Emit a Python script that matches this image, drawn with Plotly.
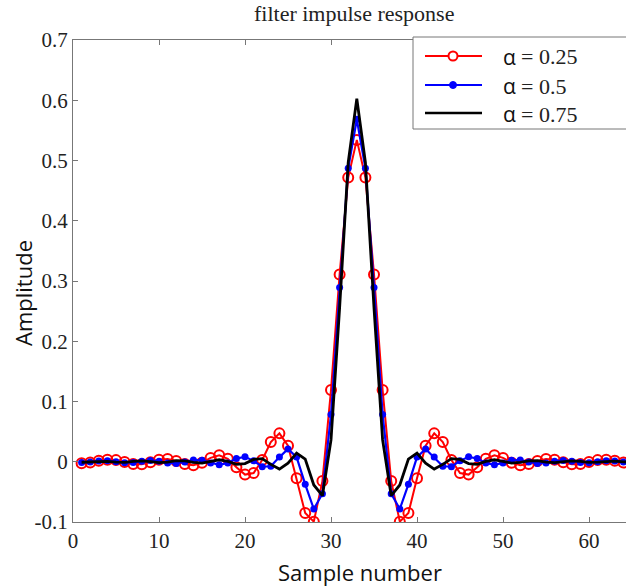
import plotly.graph_objects as go

samples = list(range(1, 66))

h_025 = [-0.0025, -0.0013, 0.0015, 0.0034, 0.0027, -0.0006, -0.0038, -0.0040, -0.0008, 0.0034,
         0.0046, 0.0014, -0.0038, -0.0057, -0.0015, 0.0064, 0.0106, 0.0050, -0.0091, -0.0213,
         -0.0188, 0.0030, 0.0326, 0.0471, 0.0265, -0.0275, -0.0851, -0.0994, -0.0321, 0.1190,
         0.3109, 0.4716, 0.5342, 0.4716, 0.3109, 0.1190, -0.0321, -0.0994, -0.0851, -0.0275,
         0.0265, 0.0471, 0.0326, 0.0030, -0.0188, -0.0213, -0.0091, 0.0050, 0.0106, 0.0064,
         -0.0015, -0.0057, -0.0038, 0.0014, 0.0046, 0.0034, -0.0008, -0.0040, -0.0038, -0.0006,
         0.0027, 0.0034, 0.0015, -0.0013, -0.0025]

h_050 = [-0.0012, -0.0005, 0.0011, 0.0015, 0.0001, -0.0015, -0.0012, 0.0008, 0.0022, 0.0008,
         -0.0020, -0.0029, -0.0003, 0.0029, 0.0025, -0.0019, -0.0051, -0.0019, 0.0054, 0.0082,
         0.0015, -0.0082, -0.0075, 0.0077, 0.0212, 0.0077, -0.0375, -0.0784, -0.0531, 0.0784,
         0.2893, 0.4872, 0.5683, 0.4872, 0.2893, 0.0784, -0.0531, -0.0784, -0.0375, 0.0077,
         0.0212, 0.0077, -0.0075, -0.0082, 0.0015, 0.0082, 0.0054, -0.0019, -0.0051, -0.0019,
         0.0025, 0.0029, -0.0003, -0.0029, -0.0020, 0.0008, 0.0022, 0.0008, -0.0012, -0.0015,
         0.0001, 0.0015, 0.0011, -0.0005, -0.0012]

h_075 = [-0.0008, -0.0002, 0.0009, 0.0006, -0.0007, -0.0009, 0.0005, 0.0014, 0.0001, -0.0015,
         -0.0006, 0.0017, 0.0016, -0.0012, -0.0024, 0.0006, 0.0033, 0.0007, -0.0042, -0.0031,
         0.0038, 0.0052, -0.0044, -0.0121, -0.0023, 0.0143, 0.0044, -0.0385, -0.0563, 0.0363,
         0.2554, 0.4968, 0.6025, 0.4968, 0.2554, 0.0363, -0.0563, -0.0385, 0.0044, 0.0143,
         -0.0023, -0.0121, -0.0044, 0.0052, 0.0038, -0.0031, -0.0042, 0.0007, 0.0033, 0.0006,
         -0.0024, -0.0012, 0.0016, 0.0017, -0.0006, -0.0015, 0.0001, 0.0014, 0.0005, -0.0009,
         -0.0007, 0.0006, 0.0009, -0.0002, -0.0008]

legend_values = ["= 0.25", "= 0.5", "= 0.75"]
series_colors = ["#ff0000", "#0000ff", "#000000"]
x_ticks = [0, 10, 20, 30, 40, 50, 60]
y_ticks = [-0.1, 0, 0.1, 0.2, 0.3, 0.4, 0.5, 0.6, 0.7]
y_ticktext = ["-0.1", "0", "0.1", "0.2", "0.3", "0.4", "0.5", "0.6", "0.7"]

serif = "Liberation Serif, Times New Roman, serif"
sans = "Open Sans, sans-serif"

# plot area in pixels (used only to place the hand-made legend box)
L, R, T, B = 73, 626, 40, 522
W, H = R - L, B - T
def px(x):
    return (x - L) / W
def py(y):
    return (B - y) / H

fig = go.Figure()
fig.add_trace(go.Scatter(x=samples, y=h_025, mode="lines+markers", showlegend=False,
                         line=dict(color=series_colors[0], width=2),
                         marker=dict(symbol="circle-open", size=10, color=series_colors[0],
                                     line=dict(width=2, color=series_colors[0]))))
fig.add_trace(go.Scatter(x=samples, y=h_050, mode="lines+markers", showlegend=False,
                         line=dict(color=series_colors[1], width=2.2),
                         marker=dict(symbol="circle", size=7, color=series_colors[1])))
fig.add_trace(go.Scatter(x=samples, y=h_075, mode="lines", showlegend=False,
                         line=dict(color=series_colors[2], width=2.8)))

shapes = []
annotations = []
# legend box
shapes.append(dict(type="rect", xref="paper", yref="paper",
                   x0=px(413), x1=px(660), y0=py(129), y1=py(37),
                   fillcolor="white", line=dict(color="#777", width=1), layer="above"))
rows = [56, 85, 113]
for i, yy in enumerate(rows):
    shapes.append(dict(type="line", xref="paper", yref="paper",
                       x0=px(425), x1=px(482), y0=py(yy), y1=py(yy),
                       line=dict(color=series_colors[i], width=2.5 if i == 2 else 2), layer="above"))
    annotations.append(dict(xref="paper", yref="paper", x=px(501), y=py(yy + 1),
                            xanchor="left", yanchor="middle", showarrow=False, text="α",
                            font=dict(family=sans, size=21, color="#111")))
    annotations.append(dict(xref="paper", yref="paper", x=px(519), y=py(yy + 1),
                            xanchor="left", yanchor="middle", showarrow=False,
                            text=legend_values[i],
                            font=dict(family=serif, size=22, color="#222")))
# legend markers
r = 4.5
shapes.append(dict(type="circle", xref="paper", yref="paper",
                   x0=px(453 - r), x1=px(453 + r), y0=py(rows[0] + r), y1=py(rows[0] - r),
                   fillcolor="white", line=dict(color=series_colors[0], width=2), layer="above"))
r2 = 3.5
shapes.append(dict(type="circle", xref="paper", yref="paper",
                   x0=px(453 - r2), x1=px(453 + r2), y0=py(rows[1] + r2), y1=py(rows[1] - r2),
                   fillcolor=series_colors[1], line=dict(color=series_colors[1], width=1), layer="above"))

# axis titles and chart title
annotations.append(dict(xref="paper", yref="paper", x=px(360), y=py(572),
                        xanchor="center", yanchor="middle", showarrow=False,
                        text="Sample number", font=dict(family=sans, size=22, color="#111")))
annotations.append(dict(xref="paper", yref="paper", x=px(23), y=py(293),
                        xanchor="center", yanchor="middle", showarrow=False, textangle=-90,
                        text="Amplitude", font=dict(family=sans, size=22, color="#111")))
annotations.append(dict(xref="paper", yref="paper", x=px(354), y=py(14),
                        xanchor="center", yanchor="middle", showarrow=False,
                        text="filter impulse response",
                        font=dict(family=serif, size=22, color="#222")))

fig.update_layout(
    width=626, height=587,
    margin=dict(l=L, r=626 - R, t=T, b=587 - B),
    paper_bgcolor="white", plot_bgcolor="white",
    showlegend=False,
    shapes=shapes,
    annotations=annotations,
    xaxis=dict(range=[0, 64.3], tickmode="array", tickvals=x_ticks,
               ticks="inside", ticklen=5, tickcolor="#777",
               showline=True, linecolor="#777", linewidth=1, mirror="ticks",
               showgrid=False, zeroline=False,
               tickfont=dict(family=serif, size=21, color="#222")),
    yaxis=dict(range=[-0.1, 0.7], tickmode="array", tickvals=y_ticks, ticktext=y_ticktext,
               ticks="inside", ticklen=5, tickcolor="#777",
               showline=True, linecolor="#777", linewidth=1, mirror=False,
               showgrid=False, zeroline=False,
               tickfont=dict(family=serif, size=21, color="#222")),
)

fig.write_html("out.html")
